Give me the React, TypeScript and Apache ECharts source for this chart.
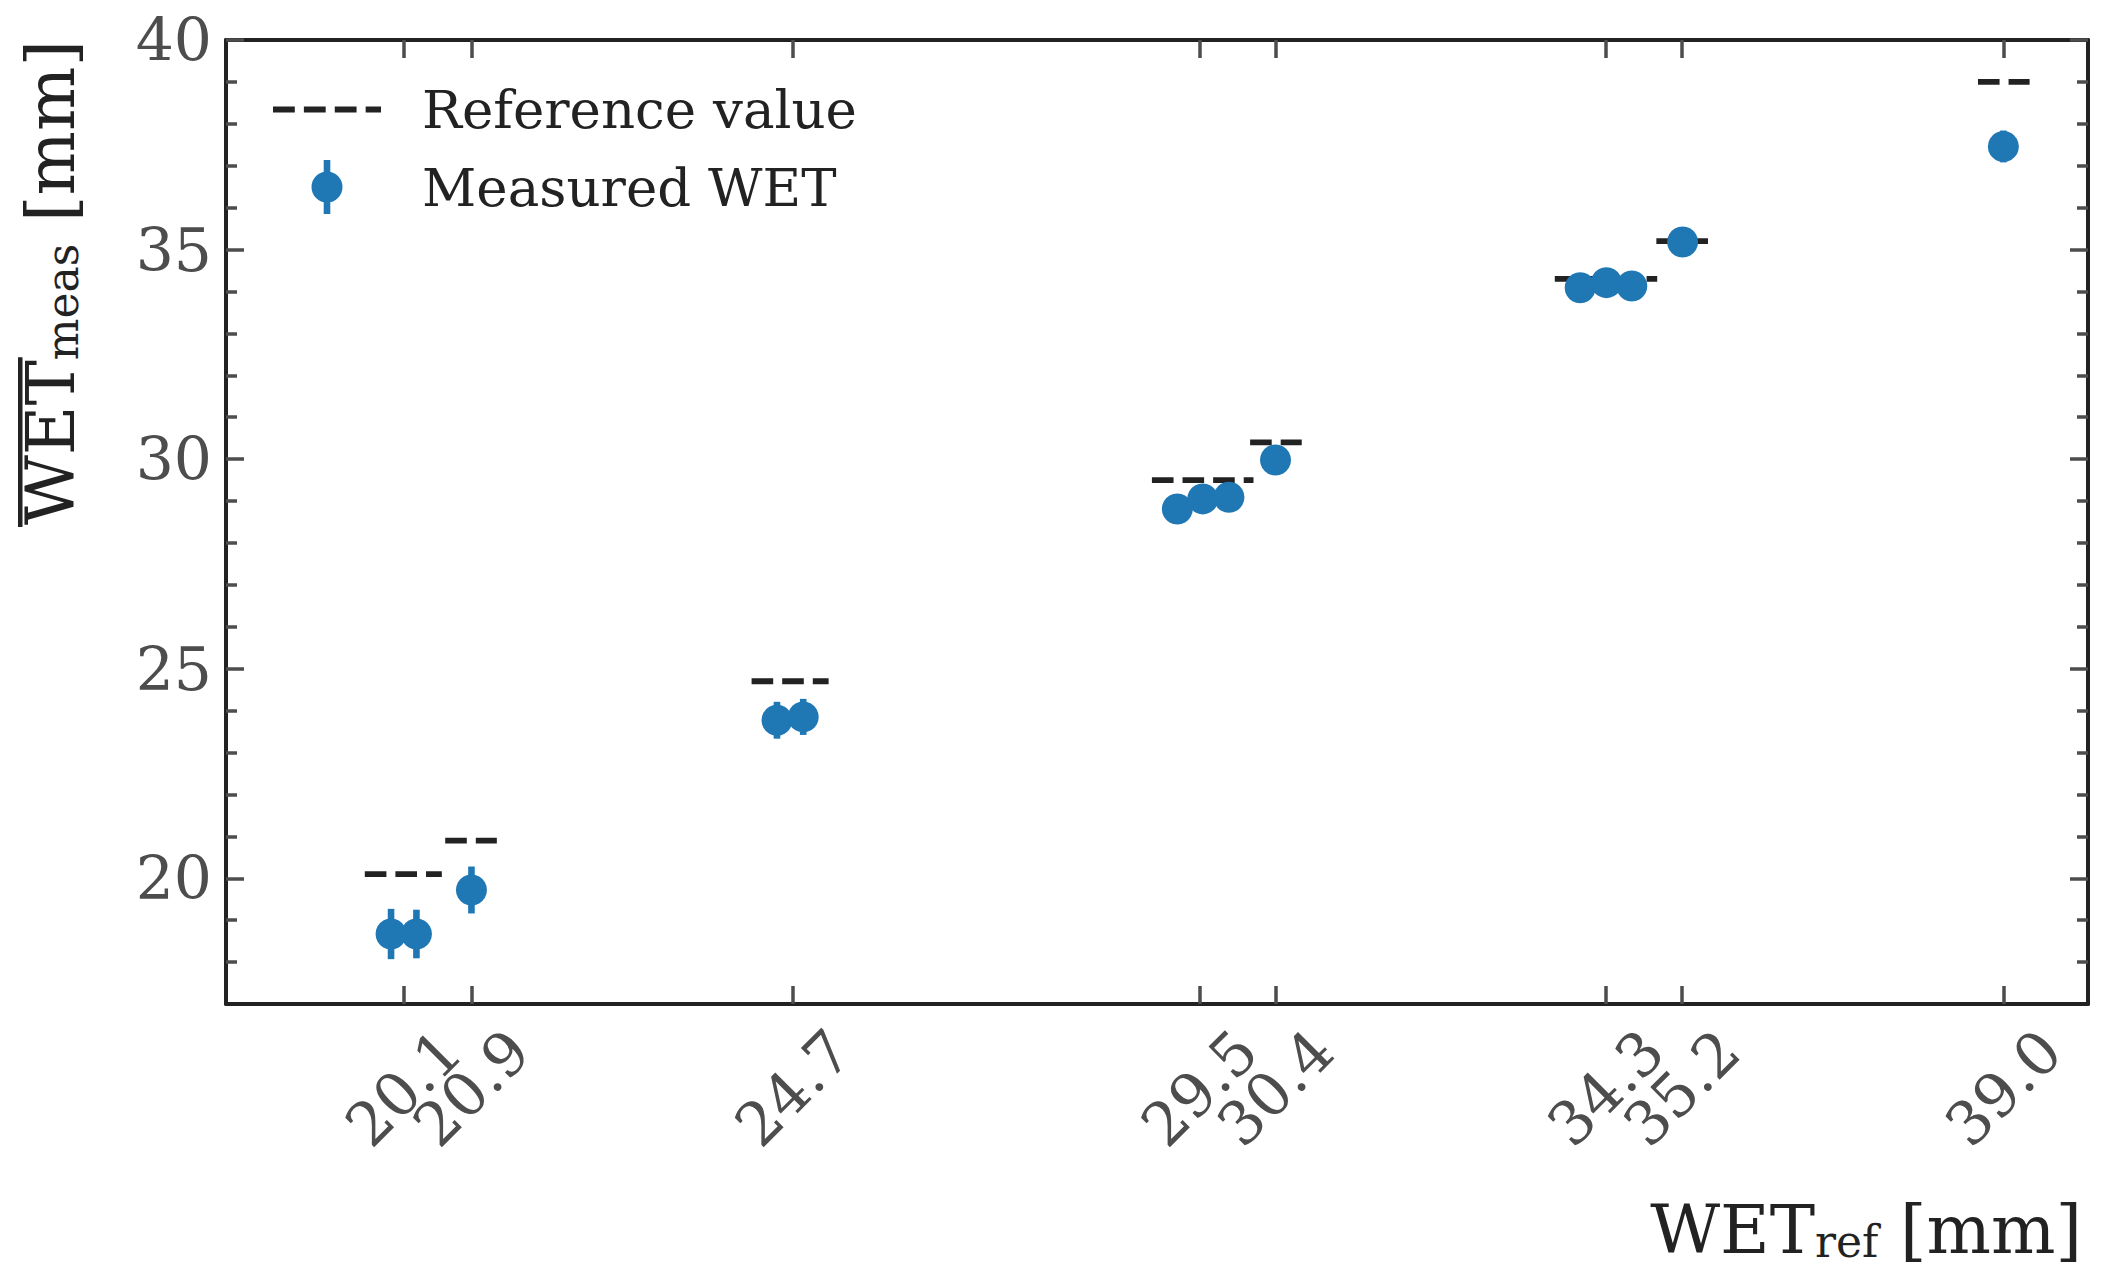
import React, { useEffect, useRef } from "react";
import * as echarts from "echarts";

// reference WET values (also the x tick positions)
const refValues = [20.1, 20.9, 24.7, 29.5, 30.4, 34.3, 35.2, 39.0];
// x extent of each dashed reference segment
const refFrom = [19.64, 20.59, 24.21, 28.94, 30.1, 33.7, 34.9, 38.7];
const refTo = [20.55, 21.2, 25.12, 30.14, 30.71, 34.91, 35.51, 39.31];

// measured points (x is shifted a little within each group)
const measX = [19.95, 20.25, 20.9, 24.51, 24.82, 29.24, 29.54, 29.85, 30.4, 34.0, 34.31, 34.61, 35.21, 39.0];
const measY = [18.67, 18.67, 19.72, 23.77, 23.85, 28.81, 29.05, 29.09, 29.98, 34.09, 34.21, 34.13, 35.18, 37.46];
const measErr = [0.6, 0.58, 0.56, 0.44, 0.43, 0.3, 0.3, 0.3, 0.3, 0.3, 0.3, 0.3, 0.3, 0.38];

const yMajorTicks = [20, 25, 30, 35, 40];
const yMinorTicks = [18, 19, 21, 22, 23, 24, 26, 27, 28, 29, 31, 32, 33, 34, 36, 37, 38, 39];

const FONT = '"DejaVu Serif", serif';
const FRAME = "#222222";
const GREY = "#4d4d4d";
const BLUE = "#1f77b4";
const LABEL_SIZE = 68;
const SUB_SIZE = 44;

const rich = {
  a: { fontFamily: FONT, fontSize: LABEL_SIZE, lineHeight: 80, verticalAlign: "bottom", fill: FRAME },
  s: { fontFamily: FONT, fontSize: SUB_SIZE, lineHeight: 48, verticalAlign: "bottom", fill: FRAME },
};

const dashIcon =
  "path://M0 0H21.6V5.8H0Z M30.6 0H52.2V5.8H30.6Z M61.2 0H82.8V5.8H61.2Z M91.8 0H107V5.8H91.8Z";
const dotIcon =
  "path://M-3.3 -27H3.3V27H-3.3Z M0 -15.5A15.5 15.5 0 1 1 0 15.5A15.5 15.5 0 1 1 0 -15.5Z";

const App: React.FC = () => {
  const chartRef = useRef<HTMLDivElement>(null);

  useEffect(() => {
    if (!chartRef.current) return;
    const chart = echarts.init(chartRef.current, undefined, { renderer: "svg" });

    // width of the label parts, for the overline on "WET"
    const ctx = document.createElement("canvas").getContext("2d")!;
    const measure = (t: string, size: number) => {
      ctx.font = `${size}px "DejaVu Serif"`;
      return ctx.measureText(t).width;
    };
    const wetW = measure("WET", LABEL_SIZE);
    const yLabelW = wetW + measure("meas", SUB_SIZE) + measure(" [mm]", LABEL_SIZE);

    // labels are split over two bottom axes so that the overlapping
    // neighbours (20.1 / 20.9 ...) are both kept
    const labelsA = refValues.filter((_, i) => i % 2 === 0);
    const labelsB = refValues.filter((_, i) => i % 2 === 1);

    const tickStyle = { color: GREY, width: 3.5 };
    const xLabel = (vals: number[]) => ({
      show: true,
      customValues: vals,
      rotate: 45,
      align: "center",
      verticalAlign: "middle",
      margin: 84,
      fontFamily: FONT,
      fontSize: 60,
      color: GREY,
      showMinLabel: true,
      showMaxLabel: true,
      formatter: (v: number) => v.toFixed(1),
    });
    const xAxisOf = (position: string, vals: number[], labels: boolean, line: boolean) => ({
      type: "value",
      min: 18,
      max: 40,
      position,
      splitLine: { show: false },
      axisLine: { show: line, onZero: false, lineStyle: { color: FRAME, width: 4 } },
      axisTick: { show: true, inside: true, length: 18, customValues: vals, lineStyle: tickStyle },
      axisLabel: labels ? xLabel(vals) : { show: false },
    });
    const yAxisOf = (position: string, vals: number[], len: number, labels: boolean, line: boolean) => ({
      type: "value",
      min: 17,
      max: 40,
      position,
      splitLine: { show: false },
      axisLine: { show: line, onZero: false, lineStyle: { color: FRAME, width: 4 } },
      axisTick: { show: true, inside: true, length: len, customValues: vals, lineStyle: tickStyle },
      axisLabel: labels
        ? { show: true, customValues: vals, margin: 14, fontFamily: FONT, fontSize: 60, color: GREY }
        : { show: false },
    });

    const option: any = {
      animation: false,
      backgroundColor: "#ffffff",
      grid: { left: 226, right: 26, top: 40, bottom: 275, outerBoundsMode: "none" },
      xAxis: [
        xAxisOf("bottom", labelsA, true, true),
        xAxisOf("bottom", labelsB, true, false),
        xAxisOf("top", refValues, false, true),
      ],
      yAxis: [
        yAxisOf("left", yMajorTicks, 18, true, true),
        yAxisOf("right", yMajorTicks, 18, false, true),
        yAxisOf("left", yMinorTicks, 11, false, false),
        yAxisOf("right", yMinorTicks, 11, false, false),
      ],
      legend: {
        orient: "vertical",
        left: 273,
        top: 83,
        padding: 0,
        itemWidth: 108,
        itemHeight: 54,
        itemGap: 24,
        selectedMode: false,
        textStyle: { fontFamily: FONT, fontSize: 53, color: FRAME, padding: [0, 0, 0, 36] },
        data: [
          { name: "Reference value", icon: dashIcon, itemStyle: { color: FRAME, borderWidth: 0, opacity: 1 } },
          { name: "Measured WET", icon: dotIcon, itemStyle: { color: BLUE, borderWidth: 0, opacity: 1 } },
        ],
      },
      graphic: [
        {
          type: "text",
          x: 4,
          y: 40,
          rotation: Math.PI / 2,
          style: { text: "{a|WET}{s|meas}{a| [mm]}", rich, align: "right", verticalAlign: "top", fill: FRAME },
        },
        {
          type: "rect",
          shape: { x: 18, y: 40 + yLabelW - wetW - 3, width: 4.5, height: wetW + 5 },
          style: { fill: FRAME },
        },
        {
          type: "text",
          x: 2082,
          y: 1183,
          style: { text: "{a|WET}{s|ref}{a| [mm]}", rich, align: "right", verticalAlign: "top", fill: FRAME },
        },
      ],
      series: [
        {
          name: "Reference value",
          type: "custom",
          xAxisIndex: 0,
          yAxisIndex: 0,
          z: 1,
          itemStyle: { color: FRAME },
          encode: { x: [0, 1], y: 2 },
          data: refValues.map((v, i) => [refFrom[i], refTo[i], v]),
          renderItem: (_p: any, api: any) => {
            const a = api.coord([api.value(0), api.value(2)]);
            const b = api.coord([api.value(1), api.value(2)]);
            return {
              type: "line",
              shape: { x1: a[0], y1: a[1], x2: b[0], y2: b[1] },
              style: { stroke: FRAME, lineWidth: 5.8, lineDash: [21.6, 9], lineCap: "butt" },
            };
          },
        },
        {
          name: "errors",
          type: "custom",
          xAxisIndex: 0,
          yAxisIndex: 0,
          z: 2,
          encode: { x: 0, y: [1, 2] },
          data: measX.map((x, i) => [x, measY[i] - measErr[i], measY[i] + measErr[i]]),
          renderItem: (_p: any, api: any) => {
            const a = api.coord([api.value(0), api.value(1)]);
            const b = api.coord([api.value(0), api.value(2)]);
            return {
              type: "line",
              shape: { x1: a[0], y1: a[1], x2: b[0], y2: b[1] },
              style: { stroke: BLUE, lineWidth: 6.6 },
            };
          },
        },
        {
          name: "Measured WET",
          type: "scatter",
          xAxisIndex: 0,
          yAxisIndex: 0,
          z: 3,
          symbol: "circle",
          symbolSize: 31,
          itemStyle: { color: BLUE, borderWidth: 0, opacity: 1 },
          data: measX.map((x, i) => [x, measY[i]]),
        },
      ],
    };

    chart.setOption(option);
    return () => chart.dispose();
  }, []);

  return (
    <div
      ref={chartRef}
      style={{ position: "absolute", left: 0, top: 0, width: "2114px", height: "1279px" }}
    />
  );
};

export default App;
